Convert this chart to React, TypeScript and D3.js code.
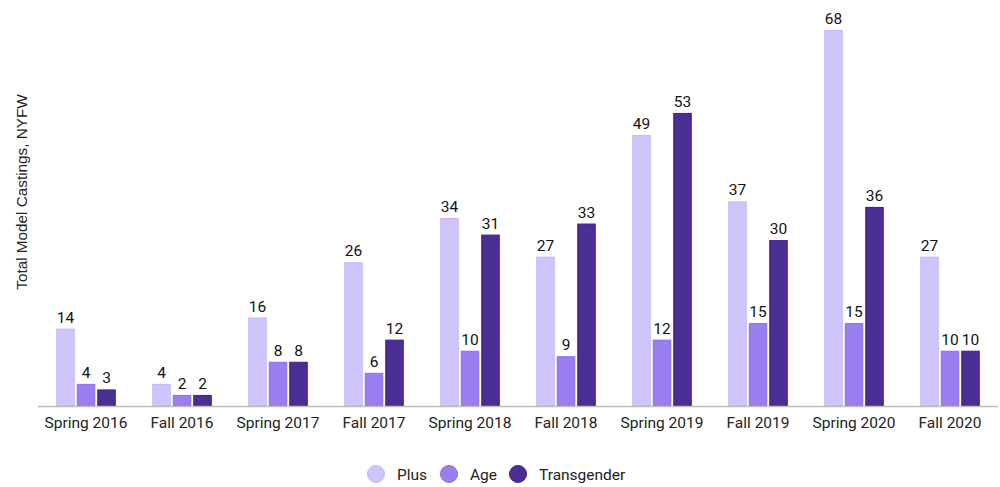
import React from "react";
import * as d3 from "d3";

const categories = ["Spring 2016","Fall 2016","Spring 2017","Fall 2017","Spring 2018","Fall 2018","Spring 2019","Fall 2019","Spring 2020","Fall 2020"];
const seriesNames = ["Plus","Age","Transgender"];
const plus = [14,4,16,26,34,27,49,37,68,27];
const age = [4,2,8,6,10,9,12,15,15,10];
const transgender = [3,2,8,12,31,33,53,30,36,10];
const seriesValues = [plus, age, transgender];
const fills = ["#d0c4fc","#9a7ff2","#4b2e93"];
const strokes = ["#c4b6f8","#8b6fe9","#3b2183"];

export default function App() {
  const W = 1000, H = 487;
  const left = 38, right = 998, base = 406, top = 30;
  const x0 = d3.scaleBand<string>().domain(categories).range([left, right]).paddingInner(0).paddingOuter(0);
  const y = d3.scaleLinear().domain([0, 68]).range([base, top]);
  const barW = 18.5, gap = 2;
  const groupW = barW * 3 + gap * 2;
  const x1 = d3.scaleBand<string>().domain(seriesNames).range([0, groupW]).paddingInner(gap / (barW + gap));
  const font = "Roboto, 'Noto Sans', sans-serif";
  const fs = 15.5;
  return (
    <svg width={W} height={H} style={{ position: "absolute", left: 0, top: 0, background: "#fff" }}>
      <text transform={`translate(27,192) rotate(-90)`} textAnchor="middle" fontFamily="'Liberation Sans', Arial, sans-serif" fontSize={15.3} fill="#222">Total Model Castings, NYFW</text>
      {categories.map((c, i) => {
        const cx = (x0(c) as number) + x0.bandwidth() / 2;
        const gx = cx - groupW / 2;
        return (
          <g key={c}>
            {seriesNames.map((s, j) => {
              const v = seriesValues[j][i];
              const bx = gx + (x1(s) as number);
              const bw = x1.bandwidth();
              return (
                <g key={s}>
                  <rect x={bx + 0.5} y={y(v) + 0.5} width={bw - 1} height={base - y(v) - 0.5} fill={fills[j]} stroke={strokes[j]} strokeWidth={1} />
                  <text x={bx + bw / 2} y={y(v) - 6} textAnchor="middle" fontFamily={font} fontSize={fs} fill="#111">{v}</text>
                </g>
              );
            })}
            <text x={cx} y={base + 22} textAnchor="middle" fontFamily={font} fontSize={fs} fill="#222">{c}</text>
          </g>
        );
      })}
      <line x1={left} x2={right} y1={base + 0.5} y2={base + 0.5} stroke="#bdbdbd" strokeWidth={1.5} />
      {seriesNames.map((s, j) => {
        const lx = [376, 449, 518][j];
        return (
          <g key={s}>
            <circle cx={lx} cy={474} r={8.5} fill={fills[j]} stroke={strokes[j]} strokeWidth={1} />
            <text x={lx + 21} y={479.5} fontFamily={font} fontSize={fs} fill="#222">{s}</text>
          </g>
        );
      })}
    </svg>
  );
}
